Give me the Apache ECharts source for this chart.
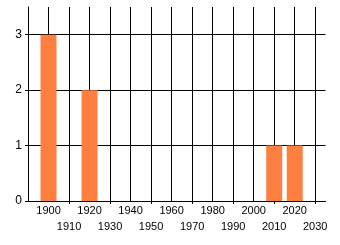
<!DOCTYPE html>
<html><head><meta charset="utf-8">
<script src="https://cdn.jsdelivr.net/npm/echarts@6/dist/echarts.min.js"></script>
<style>html,body{margin:0;padding:0;background:#fff}#c{width:340px;height:245px}</style>
</head><body><div id="c"></div>
<script>
const years = [1900, 1920, 2010, 2020];
const counts = [3, 2, 1, 1];
const xTickValues = [1910,1930,1950,1970,1990,2010,2030];
const yTickValues = [0,1,2,3];

const chart = echarts.init(document.getElementById('c'), null, {renderer:'canvas'});
const font = 'Liberation Sans';
const xRange = {min:1890, max:2035};
const yRange = {min:0, max:3.5};
chart.setOption({
  animation:false,
  backgroundColor:'#fff',
  grid:{left:28, right:14.5, top:7, bottom:44, containLabel:false},
  xAxis:[{
    type:'value', min:xRange.min, max:xRange.max, interval:10,
    axisLine:{show:true, lineStyle:{color:'#000', width:1}},
    axisTick:{show:false},
    splitLine:{show:true, showMinLine:false, showMaxLine:false, lineStyle:{color:'#000', width:1}},
    axisLabel:{showMinLabel:true, showMaxLabel:true, hideOverlap:false, margin:2, lineHeight:16, fontFamily:font, fontSize:11, color:'#000',
      formatter:v => (v<1900 || v%10!==0) ? '' : ((((v-1900)/10)%2===1 ? '\n' : '') + v)}
  },{
    type:'value', min:xRange.min, max:xRange.max, position:'bottom',
    axisLine:{show:false}, splitLine:{show:false}, axisLabel:{show:false},
    axisTick:{show:true, length:3, customValues:xTickValues, lineStyle:{color:'#000'}}
  }],
  yAxis:[{
    type:'value', min:yRange.min, max:yRange.max, interval:1,
    axisLine:{show:true, lineStyle:{color:'#000', width:1}},
    axisTick:{show:false},
    splitLine:{show:true, showMaxLine:false, lineStyle:{color:'#000', width:1}},
    axisLabel:{showMinLabel:true, showMaxLabel:true, margin:6, fontFamily:font, fontSize:12, color:'#000',
      formatter:v => (v%1!==0) ? '' : String(v)}
  },{
    type:'value', min:yRange.min, max:yRange.max, position:'left',
    axisLine:{show:false}, splitLine:{show:false}, axisLabel:{show:false},
    axisTick:{show:true, length:3, customValues:yTickValues, lineStyle:{color:'#000'}}
  }],
  series:[{
    type:'bar', barWidth:16,
    data:years.map((y,i)=>[y, counts[i]]),
    itemStyle:{color:'#FF7F40'}
  }]
});
</script></body></html>
